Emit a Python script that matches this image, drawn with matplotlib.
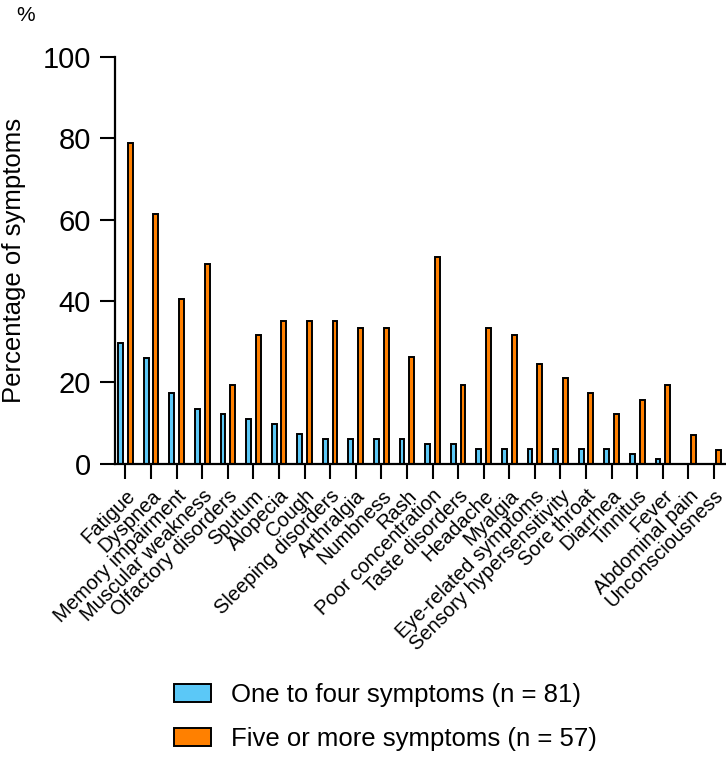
import matplotlib.pyplot as plt
import numpy as np

plt.rcParams['font.family'] = ['Liberation Sans', 'DejaVu Sans']

# Symptoms (x axis categories)
symptoms = ['Fatigue', 'Dyspnea', 'Memory impairment', 'Muscular weakness',
            'Olfactory disorders', 'Sputum', 'Alopecia', 'Cough',
            'Sleeping disorders', 'Arthralgia', 'Numbness', 'Rash',
            'Poor concentration', 'Taste disorders', 'Headache', 'Myalgia',
            'Eye-related symptoms', 'Sensory hypersensitivity', 'Sore throat',
            'Diarrhea', 'Tinnitus', 'Fever', 'Abdominal pain', 'Unconsciousness']

# Percentages
one_to_four = [29.6, 25.9, 17.3, 13.6, 12.3, 11.1, 9.9, 7.4, 6.2, 6.2, 6.2, 6.2,
               4.9, 4.9, 3.7, 3.7, 3.7, 3.7, 3.7, 3.7, 2.5, 1.2, 0.0, 0.0]
five_or_more = [78.9, 61.4, 40.4, 49.1, 19.3, 31.6, 35.1, 35.1, 35.1, 33.3, 33.3, 26.3,
                50.9, 19.3, 33.3, 31.6, 24.6, 21.1, 17.5, 12.3, 15.8, 19.3, 7.0, 3.5]

label_one = 'One to four symptoms (n = 81)'
label_five = 'Five or more symptoms (n = 57)'

fig = plt.figure(figsize=(7.26, 7.58), dpi=100)
ax = fig.add_axes([0.158, 0.388, 0.842, 0.537])

x = np.arange(len(symptoms))
w = 0.19
ax.bar(x - 0.19, one_to_four, width=w, color='#5BC8F7', edgecolor='black',
       linewidth=1.4, label=label_one)
ax.bar(x + 0.19, five_or_more, width=w, color='#FF8000', edgecolor='black',
       linewidth=1.4, label=label_five)

ax.set_xlim(-0.42, 23.47)
ax.set_ylim(0, 100)
ax.set_yticks([0, 20, 40, 60, 80, 100])
ax.set_xticks(x)
ax.set_xticklabels(symptoms, rotation=45, ha='right', rotation_mode='anchor',
                   fontsize=14.5)
ax.tick_params(axis='y', labelsize=21, length=11, width=1.5, pad=6)
ax.tick_params(axis='x', length=11, width=1.5, pad=5)

for s in ['top', 'right']:
    ax.spines[s].set_visible(False)
for s in ['left', 'bottom']:
    ax.spines[s].set_linewidth(1.6)

ax.set_ylabel('Percentage of symptoms', fontsize=18.5, labelpad=12)
fig.text(0.035, 0.98, '%', fontsize=15, ha='center', va='center')

fig.legend(loc='center left', bbox_to_anchor=(0.226, 0.054), frameon=False,
           fontsize=18.5, handlelength=1.42, handleheight=0.7, handletextpad=0.78,
           labelspacing=0.8, borderaxespad=0)

fig.savefig('out.png', dpi=100)
